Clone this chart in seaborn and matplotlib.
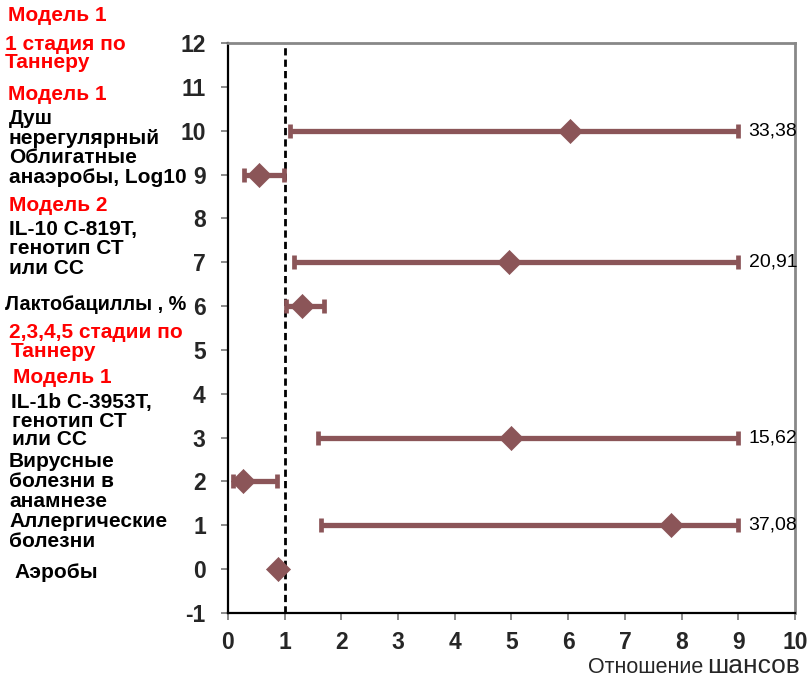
import matplotlib
matplotlib.use("Agg")
import matplotlib.pyplot as plt
import seaborn as sns
import numpy as np
import pandas as pd

# ---- data ----
y_pos = [10, 9, 7, 6, 3, 2, 1, 0]
or_val = [6.04, 0.55, 4.95, 1.31, 5.00, 0.26, 7.81, 0.88]
ci_low = [1.10, 0.28, 1.16, 1.02, 1.59, 0.08, 1.64, 0.86]
ci_high = [33.38, 0.98, 20.91, 1.70, 15.62, 0.86, 37.08, 0.90]
x_ticks = list(range(0, 11))
y_ticks = list(range(-1, 13))
x_max_shown = 9.0

label_lines = [
    "Модель 1",
    "1 стадия по", "Таннеру",
    "Модель 1",
    "Душ", "нерегулярный",
    "Облигатные", "анаэробы, Log10",
    "Модель 2",
    "IL-10 C-819T,", "генотип СТ", "или СС",
    "Лактобациллы , %",
    "2,3,4,5 стадии по", "Таннеру",
    "Модель 1",
    "IL-1b C-3953T,", "генотип СТ", "или СС",
    "Вирусные", "болезни в", "анамнезе",
    "Аллергические", "болезни",
    "Аэробы",
]
label_colors = [
    "red",
    "red", "red",
    "red",
    "black", "black",
    "black", "black",
    "red",
    "black", "black", "black",
    "black",
    "red", "red",
    "red",
    "black", "black", "black",
    "black", "black", "black",
    "black", "black",
    "black",
]
# pixel positions (x left, baseline y)
label_px = [
    (8, 21),
    (5, 50), (5, 68),
    (8, 100),
    (9, 124), (9, 144),
    (9, 163), (9, 183),
    (9, 211),
    (9, 235), (9, 254), (9, 274),
    (5, 310),
    (9, 338), (11, 357),
    (13, 383),
    (11, 408), (12, 427), (12, 445),
    (9, 467), (9, 487), (9, 507),
    (9, 527), (9, 547),
    (14, 578),
]

df = pd.DataFrame({"y": y_pos, "OR": or_val, "lo": ci_low, "hi": ci_high})
df["hi_shown"] = np.minimum(df["hi"], x_max_shown)

sns.set_theme(style="white")
plt.rcParams["font.family"] = ["Liberation Sans", "DejaVu Sans"]

W, H = 808, 677
fig = plt.figure(figsize=(W / 100, H / 100), dpi=100)
ax = fig.add_axes([228 / W, 1 - 613 / H, (795 - 228) / W, (613 - 43) / H])

col = "#8B5558"
ax.errorbar(df["OR"], df["y"],
            xerr=[df["OR"] - df["lo"], df["hi_shown"] - df["OR"]],
            fmt="none", ecolor=col, elinewidth=3.8, capsize=4.8, capthick=3.4,
            zorder=3)
sns.scatterplot(data=df, x="OR", y="y", marker="D", s=150, color=col,
                edgecolor=col, linewidth=0.5, ax=ax, zorder=4, legend=False)

ax.axvline(1, color="black", lw=2, linestyle=(0, (2.6, 1.5)), zorder=2)

for _, r in df.iterrows():
    if r["hi"] > x_max_shown:
        ax.text(9.18, r["y"], f"{r['hi']:.2f}".replace(".", ","), fontsize=14,
                va="center", ha="left", color="black")

ax.set_xlim(0, 10)
ax.set_ylim(-1, 12)
ax.set_xticks(x_ticks)
ax.set_yticks(y_ticks)
ax.set_xticklabels([str(t) for t in x_ticks], fontsize=16.5, fontweight="bold")
ax.set_yticklabels([str(t) for t in y_ticks], fontsize=16.5, fontweight="bold")
ax.set_xlabel("")
ax.set_ylabel("")
ax.tick_params(axis="both", which="both", direction="out", length=5,
               width=1.2, color="#777777", bottom=True, left=True)
ax.tick_params(axis="x", pad=8)
ax.tick_params(axis="y", pad=11)

for s in ["left", "bottom"]:
    ax.spines[s].set_color("black")
    ax.spines[s].set_linewidth(1.6)
for s in ["top", "right"]:
    ax.spines[s].set_color("#888888")
    ax.spines[s].set_linewidth(2.0)
ax.grid(False)

for txt, c, (px, py) in zip(label_lines, label_colors, label_px):
    fs = 14.3 if txt.startswith("Лактобациллы") else 15
    fig.text(px / W, 1 - py / H, txt, color=c, fontsize=fs, fontweight="bold",
             ha="left", va="baseline")

fig.text(800 / W, 1 - 673 / H, "шансов", fontsize=19, ha="right", va="baseline")
fig.text(703 / W, 1 - 673 / H, "Отношение", fontsize=15.5, ha="right", va="baseline")

fig.savefig("out.png", dpi=100)
